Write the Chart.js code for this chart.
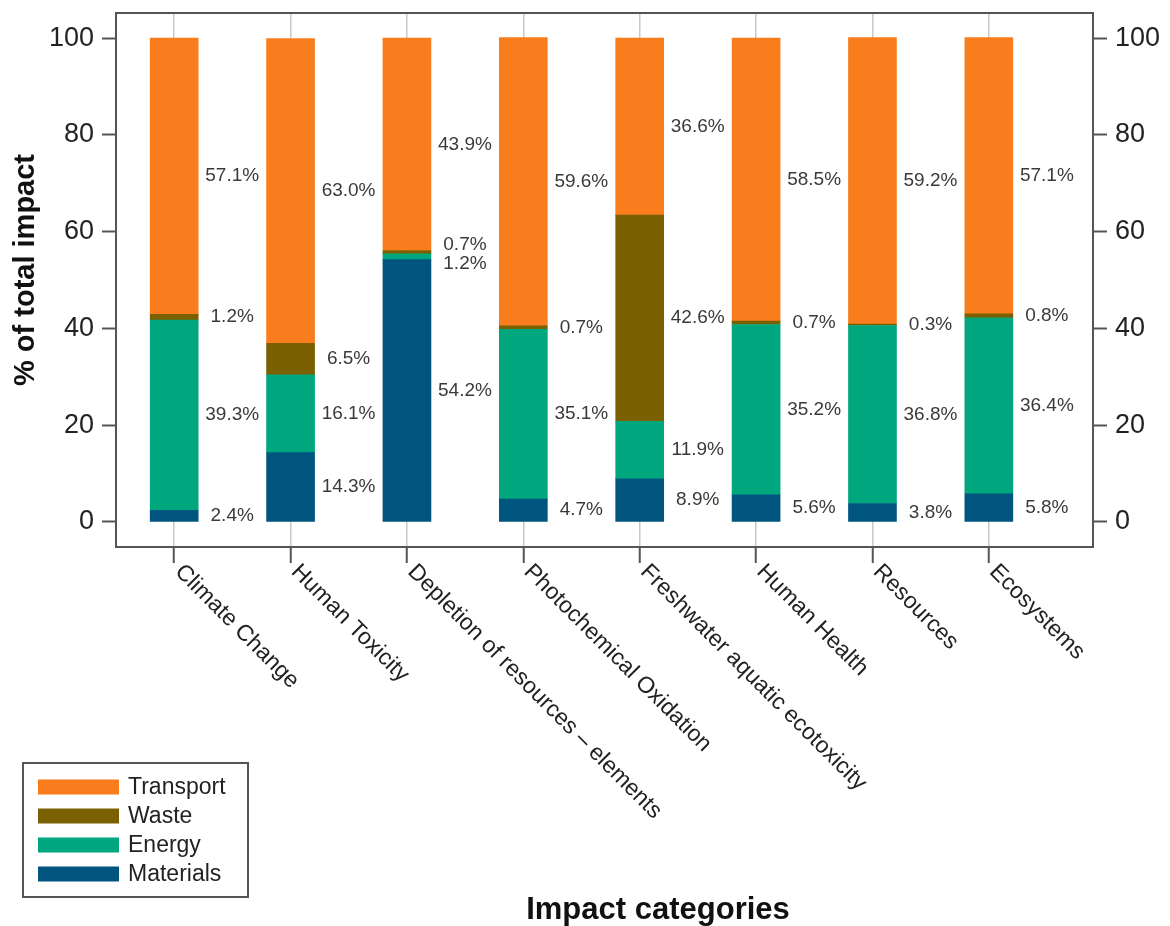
<!DOCTYPE html>
<html>
<head>
<meta charset="utf-8">
<script src="https://cdn.jsdelivr.net/npm/chart.js@4.4.1/dist/chart.umd.min.js"></script>
<style>
  html, body { margin: 0; padding: 0; background: #fff; }
  #wrap { width: 1170px; height: 926px; }
</style>
</head>
<body>
<div id="wrap"><canvas id="chart" width="1170" height="926"></canvas></div>
<script>
const categories = ['Climate Change', 'Human Toxicity', 'Depletion of resources \u2013 elements',
  'Photochemical Oxidation', 'Freshwater aquatic ecotoxicity', 'Human Health', 'Resources', 'Ecosystems'];
const materials = [2.4, 14.3, 54.2, 4.7, 8.9, 5.6, 3.8, 5.8];
const energy    = [39.3, 16.1, 1.2, 35.1, 11.9, 35.2, 36.8, 36.4];
const waste     = [1.2, 6.5, 0.7, 0.7, 42.6, 0.7, 0.3, 0.8];
const transport = [57.1, 63.0, 43.9, 59.6, 36.6, 58.5, 59.2, 57.1];
const yTicks = [0, 20, 40, 60, 80, 100];

const FONT = "'Liberation Sans', Arial, sans-serif";
const AXIS = '#555';

const toXY = arr => arr.map((v, i) => ({ x: i + 1, y: v }));

// labels next to each segment, pushed apart when they would overlap
const segmentLabels = {
  id: 'segmentLabels',
  afterDatasetsDraw(chart) {
    const ctx = chart.ctx;
    ctx.save();
    ctx.font = '19px ' + FONT;
    ctx.fillStyle = '#3a3a3a';
    ctx.textAlign = 'center';
    ctx.textBaseline = 'middle';
    const n = chart.data.datasets.length;
    categories.forEach((c, i) => {
      const pos = [], txt = [];
      let x = 0;
      for (let d = 0; d < n; d++) {
        const el = chart.getDatasetMeta(d).data[i];
        pos.push((el.y + el.base) / 2);
        txt.push(chart.data.datasets[d].data[i].y.toFixed(1) + '%');
        x = el.x + 58;
      }
      for (let k = 0; k < 40; k++) {
        for (let j = 0; j < n - 1; j++) {
          const gap = pos[j] - pos[j + 1];
          if (gap < 19) {
            const s = (19 - gap) / 2;
            pos[j] += s; pos[j + 1] -= s;
          }
        }
      }
      txt.forEach((t, j) => ctx.fillText(t, x, pos[j]));
    });
    ctx.restore();
  }
};

// frame, rotated category names, titles and legend box
const decorations = {
  id: 'decorations',
  afterDraw(chart) {
    const ctx = chart.ctx;
    const a = chart.chartArea;
    ctx.save();
    ctx.strokeStyle = AXIS;
    ctx.lineWidth = 2;
    ctx.strokeRect(a.left, a.top, a.right - a.left, a.bottom - a.top);

    const xs = chart.scales.x;
    ctx.fillStyle = '#222';
    ctx.font = '23px ' + FONT;
    ctx.textAlign = 'left';
    ctx.textBaseline = 'middle';
    categories.forEach((c, i) => {
      ctx.save();
      ctx.translate(xs.getPixelForValue(i + 1), a.bottom + 17);
      ctx.rotate(Math.PI / 4);
      ctx.fillText(c, 6, 0);
      ctx.restore();
    });

    ctx.fillStyle = '#111';
    ctx.font = 'bold 31px ' + FONT;
    ctx.textAlign = 'center';
    ctx.textBaseline = 'alphabetic';
    ctx.fillText('Impact categories', 658, 919);

    ctx.save();
    ctx.translate(34, 270);
    ctx.rotate(-Math.PI / 2);
    ctx.font = 'bold 29px ' + FONT;
    ctx.fillText('% of total impact', 0, 0);
    ctx.restore();

    // legend
    ctx.strokeStyle = AXIS;
    ctx.lineWidth = 2;
    ctx.strokeRect(23, 763, 225, 134);
    ctx.font = '23px ' + FONT;
    ctx.textAlign = 'left';
    ctx.textBaseline = 'middle';
    const ds = chart.data.datasets.slice().reverse();
    ds.forEach((d, j) => {
      const cy = 787 + j * 29;
      ctx.fillStyle = d.backgroundColor;
      ctx.fillRect(38, cy - 7.5, 81, 15);
      ctx.fillStyle = '#222';
      ctx.fillText(d.label, 128, cy + 1);
    });
    ctx.restore();
  }
};

const yAxis = (pos, width) => ({
  type: 'linear',
  position: pos,
  stacked: true,
  min: -5.2,
  max: 105.2,
  afterBuildTicks: s => { s.ticks = yTicks.map(v => ({ value: v })); },
  afterFit: s => { s.width = width; s.paddingTop = 0; s.paddingBottom = 0; },
  border: { display: false },
  grid: { display: true, drawOnChartArea: false, drawTicks: true, tickLength: 14, tickColor: AXIS, tickWidth: 2 },
  ticks: { color: '#222', padding: 8, font: { family: FONT, size: 27 } }
});

new Chart(document.getElementById('chart').getContext('2d'), {
  type: 'bar',
  data: {
    datasets: [
      { label: 'Materials', data: toXY(materials), backgroundColor: '#00557f' },
      { label: 'Energy', data: toXY(energy), backgroundColor: '#00a67d' },
      { label: 'Waste', data: toXY(waste), backgroundColor: '#7a6000' },
      { label: 'Transport', data: toXY(transport), backgroundColor: '#f97d1c' }
    ]
  },
  options: {
    responsive: false,
    animation: false,
    devicePixelRatio: 1,
    barThickness: 48,
    layout: { padding: { top: 13, left: 0, right: 0, bottom: 0 } },
    plugins: { legend: { display: false }, tooltip: { enabled: false } },
    scales: {
      x: {
        type: 'linear',
        stacked: true,
        offset: false,
        min: 0.5,
        max: 8.895,
        afterBuildTicks: s => { s.ticks = categories.map((c, i) => ({ value: i + 1 })); },
        afterFit: s => { s.height = 379; s.paddingLeft = 0; s.paddingRight = 0; },
        border: { display: false },
        grid: { offset: false, color: '#c8c8c8', lineWidth: 1.5, drawTicks: true, tickLength: 16, tickColor: AXIS, tickWidth: 2 },
        ticks: { display: false }
      },
      y: yAxis('left', 116),
      y2: yAxis('right', 77)
    }
  },
  plugins: [segmentLabels, decorations]
});
</script>
</body>
</html>
